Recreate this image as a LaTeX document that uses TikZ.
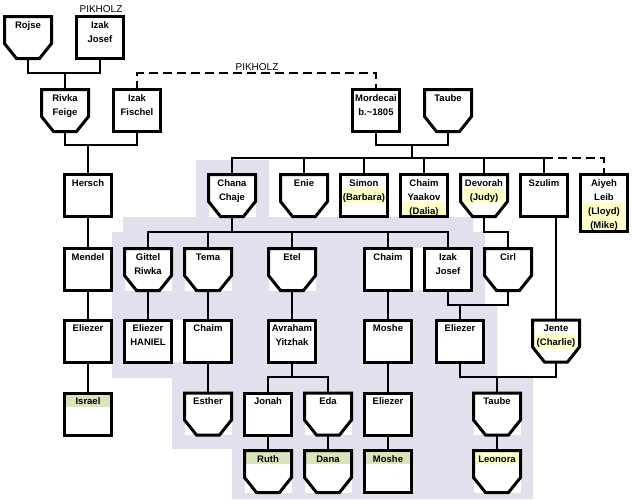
\documentclass[tikz,border=0pt]{standalone}
\usepackage{fontspec}
\setmainfont{Liberation Sans}
\usepackage{xcolor}
\definecolor{lavender}{rgb}{0.894,0.875,0.925}
\definecolor{palegreen}{rgb}{0.847,0.894,0.737}
\definecolor{paleyellow}{rgb}{1,1,0.8}
\usetikzlibrary{calc}

\begin{document}
\begin{tikzpicture}[x=1pt,y=-1pt,
    person/.style={rectangle, anchor=north, inner sep=0pt, outer sep=0pt, minimum width=47pt, minimum height=42pt,
        text width=47pt, align=center, text height=11.5pt, text depth=30.5pt, fill=white,
        font=\fontsize{9.5}{14}\selectfont\bfseries},
    male/.style={person, draw, line width=3pt},
    female/.style={person},
    tall/.style={minimum height=57pt, text depth=45.5pt},
    band/.style n args={3}{path picture={\fill[#1] ([yshift=-#2]path picture bounding box.north west) rectangle ([yshift=-#3]path picture bounding box.north east);}},
    link/.style={line width=2pt},
    marriage/.style={line width=2pt, dash pattern=on 9pt off 5pt},
    fshape/.style={line width=3pt},
    surname/.style={inner sep=0pt, font=\fontsize{10}{12}\selectfont}]
    \useasboundingbox (0,0) rectangle (633,499);

    % Shaded branch
    \fill[lavender] (196,160) -- (269,160) -- (269,217) -- (473,217) -- (473,232) -- (485,232) -- (485,304)
        -- (497,304) -- (497,378) -- (533,378) -- (533,499) -- (232,499) -- (232,449) -- (172,449)
        -- (172,378) -- (112,378) -- (112,232) -- (123,232) -- (123,217) -- (196,217) -- cycle;
    \fill[white] (173,320) rectangle (183,362);
    \fill[white] (413,248) rectangle (423,290);

    % First generations
    \node[female] (rojse) at (28,16.5) {Rojse};
    \node[male] (izakj) at (100,16.5) {Izak\\Josef};
    \node[female] (rivka) at (65,89.5) {Rivka\\Feige};
    \node[male] (fischel) at (137,89.5) {Izak\\Fischel};
    \node[male] (mordecai) at (376,89.5) {Mordecai\\b.\textasciitilde1805};
    \node[female] (taubeA) at (448,89.5) {Taube};

    % Children of Mordecai
    \node[male] (hersch) at (88,174.5) {Hersch};
    \node[female] (chana) at (232,174.5) {Chana\\Chaje};
    \node[female] (enie) at (304,174.5) {Enie};
    \node[male, band={paleyellow}{13.5}{28.5}] (simon) at (364,174.5) {Simon\\(Barbara)};
    \node[male, band={paleyellow}{27.5}{60}] (chaimy) at (424,174.5) {Chaim\\Yaakov\\(Dalia)};
    \node[female, band={paleyellow}{13.5}{28.5}] (devorah) at (484,174.5) {Devorah\\(Judy)};
    \node[male] (szulim) at (544,174.5) {Szulim};
    \node[male, tall, band={paleyellow}{27.5}{80}] (aiyeh) at (604,174.5) {Aiyeh\\Leib\\(Lloyd)\\(Mike)};

    % Next row
    \node[male] (mendel) at (88,248.5) {Mendel};
    \node[female] (gittel) at (148,248.5) {Gittel\\Riwka};
    \node[female] (tema) at (208,248.5) {Tema};
    \node[female] (etel) at (292,248.5) {Etel};
    \node[male] (chaimA) at (388,248.5) {Chaim};
    \node[male] (izakjB) at (448,248.5) {Izak\\Josef};
    \node[female] (cirl) at (508,248.5) {Cirl};

    \node[male] (eliezerA) at (88,320) {Eliezer};
    \node[male] (haniel) at (148,320) {Eliezer\\HANIEL};
    \node[male] (chaimB) at (208,320) {Chaim};
    \node[male] (avraham) at (292,320) {Avraham\\Yitzhak};
    \node[male] (mosheA) at (388,320) {Moshe};
    \node[male] (eliezerB) at (460,320) {Eliezer};
    \node[female, band={paleyellow}{13.5}{28.5}] (jente) at (556,320) {Jente\\(Charlie)};

    \node[male, band={palegreen}{0}{13.5}] (israel) at (88,393) {Israel};
    \node[female] (esther) at (208,393) {Esther};
    \node[male] (jonah) at (268,393) {Jonah};
    \node[female] (eda) at (328,393) {Eda};
    \node[male] (eliezerC) at (388,393) {Eliezer};
    \node[female] (taubeB) at (497,393) {Taube};

    \node[female, band={palegreen}{0}{13.5}] (ruth) at (268,450.5) {Ruth};
    \node[female, band={palegreen}{0}{13.5}] (dana) at (328,450.5) {Dana};
    \node[male, band={palegreen}{0}{13.5}] (mosheB) at (388,450.5) {Moshe};
    \node[female, band={paleyellow}{0}{13.5}] (leonora) at (497,450.5) {Leonora};

    % Female outlines
    \foreach \p in {rojse,rivka,taubeA,chana,enie,devorah,gittel,tema,etel,cirl,jente,esther,eda,taubeB,ruth,dana,leonora} {
        \draw[fshape] (\p.north west) -- ([yshift=15pt]\p.south west) -- ([xshift=12pt]\p.south west)
            -- ([xshift=-12pt]\p.south east) -- ([yshift=15pt]\p.south east) -- (\p.north east) -- cycle;
    }

    % Couples and children
    \coordinate (j1) at (65,73);
    \draw[link] (rojse.south) |- (j1) -| (izakj.south);
    \draw[link] (j1) -- (rivka);
    \coordinate (j2) at (88,145);
    \draw[link] (rivka.south) |- (j2) -| (fischel.south);
    \draw[link] (j2) -- (hersch);
    \draw[marriage] (fischel.north) |- (mordecai.north |- j1) -- (mordecai.north);

    \coordinate (j3) at (412,145);
    \coordinate (j4) at (412,158);
    \draw[link] (mordecai.south) |- (j3) -| (taubeA.south);
    \draw[link] (j3) -- (j4);
    \draw[link] (chana.north) |- (j4) -| (szulim.north);
    \foreach \n in {enie,simon,chaimy,devorah} {
        \draw[link] (\n.north) -- (\n.north |- j4);
    }
    \draw[marriage] (szulim.north |- j4) -| (aiyeh.north);

    \coordinate (j5) at (232,232);
    \draw[link] (chana) -- (j5);
    \draw[link] (gittel.north) |- (j5) -| (izakjB.north);
    \foreach \n in {tema,etel,chaimA} {
        \draw[link] (\n.north) -- (\n.north |- j5);
    }
    \draw[link] (devorah.south) |- (cirl.north |- j5) -- (cirl.north);

    \coordinate (j6) at (460,305);
    \draw[link] (izakjB.south) |- (j6) -| (cirl.south);
    \draw[link] (j6) -- (eliezerB);
    \draw[link] (szulim.south -| jente.north) -- (jente.north);

    \coordinate (j7) at (292,377);
    \draw[link] (avraham) -- (j7);
    \draw[link] (jonah.north) |- (j7) -| (eda.north);
    \coordinate (j8) at (497,377);
    \draw[link] (eliezerB.south) |- (j8) -| (jente.south);
    \draw[link] (j8) -- (taubeB);

    \foreach \a/\b in {hersch/mendel, mendel/eliezerA, eliezerA/israel, gittel/haniel, tema/chaimB, chaimB/esther,
        etel/avraham, chaimA/mosheA, mosheA/eliezerC, eliezerC/mosheB, jonah/ruth, eda/dana, taubeB/leonora} {
        \draw[link] (\a) -- (\b);
    }

    % Family names
    \node[surname] (pikA) at (101,9) {PIKHOLZ};
    \node[surname] (pikB) at (257,67) {PIKHOLZ};
\end{tikzpicture}
\end{document}
